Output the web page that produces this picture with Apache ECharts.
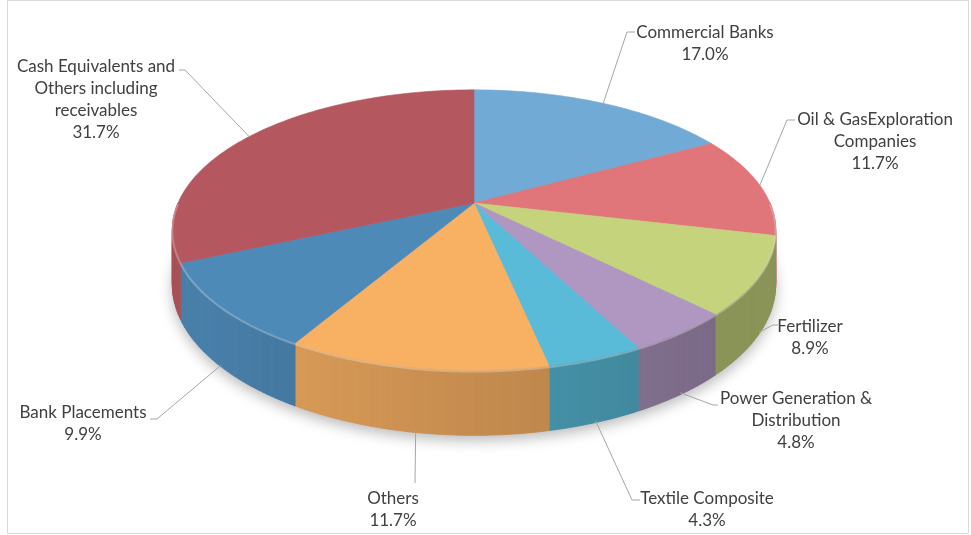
<!DOCTYPE html>
<html>
<head>
<meta charset="utf-8">
<title>Portfolio composition</title>
<script src="https://cdn.jsdelivr.net/npm/echarts@6.0.0/dist/echarts.min.js"></script>
<style>
    html, body { margin: 0; padding: 0; background: #fff; }
    #chart { width: 971px; height: 535px; }
</style>
</head>
<body>
<div id="chart"></div>
<script>
// slices, clockwise from 12 o'clock
var sectors = [
    'Commercial Banks',
    'Oil & GasExploration\nCompanies',
    'Fertilizer',
    'Power Generation &\nDistribution',
    'Textile Composite',
    'Others',
    'Bank Placements',
    'Cash Equivalents and\nOthers including\nreceivables'
];
var shares = [17.0, 11.7, 8.9, 4.8, 4.3, 11.7, 9.9, 31.7];

var topColors = ['#72aad6', '#e0757a', '#c5d37c', '#b097c2', '#59bbd8', '#f8b063', '#4e8ab8', '#b5575f'];

// label layout: [text centre x, first line centre y, elbow x, elbow y, end x]
var labelLayout = [
    [705, 33, 627, 32, 635],
    [875, 120, 787, 120, 795],
    [810, 327, 773, 325, 778],
    [796, 399, 713, 405, 718],
    [707, 499, 632, 500, 640],
    [393, 499, 415, 483, 415],
    [83, 413, 157, 419, 150],
    [96, 67, 185, 70, 179]
];

// pie geometry in pixels, with a simple perspective factor K
var CX = 474, CY = 203, RX = 296, RY = 135, K = 0.193, DEPTH = 52.5;
var STEP = Math.PI / 180;

var total = shares.reduce(function (a, b) { return a + b; }, 0);
var starts = [], ends = [];
(function () {
    var acc = 0;
    shares.forEach(function (s) {
        starts.push(acc / total * 2 * Math.PI);
        acc += s;
        ends.push(acc / total * 2 * Math.PI);
    });
})();

// theta clockwise from top, r 0..1, h 0 = top face, 1 = bottom
function project(theta, r, h) {
    var u = Math.sin(theta) * r, v = -Math.cos(theta) * r;
    var w = 1 - K * v;
    return [CX + RX * u / w, CY + (RY * v + DEPTH * h) / w];
}

function shade(hex, f) {
    var n = parseInt(hex.slice(1), 16);
    var r = Math.round(((n >> 16) & 255) * f);
    var g = Math.round(((n >> 8) & 255) * f);
    var b = Math.round((n & 255) * f);
    return 'rgb(' + Math.min(255, r) + ',' + Math.min(255, g) + ',' + Math.min(255, b) + ')';
}

function wallFactor(theta) {
    var d = theta * 180 / Math.PI;
    return 0.70 + 0.22 * Math.min(1, Math.max(0, (d - 140) / 90));
}

function rimPoints(a0, a1, h) {
    var pts = [];
    var n = Math.max(2, Math.ceil((a1 - a0) / STEP));
    for (var k = 0; k <= n; k++) {
        pts.push(project(a0 + (a1 - a0) * k / n, 1, h));
    }
    return pts;
}

function renderWall(params, api) {
    var i = params.dataIndex;
    var children = [];
    if (i === 0) {
        // bottom disk, only there to cast the soft shadow
        children.push({
            type: 'polygon',
            shape: { points: rimPoints(0, 2 * Math.PI, 1) },
            style: { fill: '#bbbbbb', shadowBlur: 14, shadowColor: 'rgba(0,0,0,0.28)', shadowOffsetY: 5 }
        });
    }
    var a0 = Math.max(starts[i], Math.PI / 2);
    var a1 = Math.min(ends[i], 3 * Math.PI / 2);
    if (a1 > a0) {
        var n = Math.max(2, Math.ceil((a1 - a0) / STEP));
        for (var k = 0; k < n; k++) {
            var t0 = a0 + (a1 - a0) * k / n;
            var t1 = a0 + (a1 - a0) * (k + 1) / n;
            var c = shade(topColors[i], wallFactor((t0 + t1) / 2));
            children.push({
                type: 'polygon',
                shape: { points: [project(t0, 1, 0), project(t1, 1, 0), project(t1, 1, 1), project(t0, 1, 1)] },
                style: { fill: c, stroke: c, lineWidth: 0.8 }
            });
        }
    }
    return { type: 'group', children: children };
}

function renderTop(params, api) {
    var i = params.dataIndex;
    var pts = [project(0, 0, 0)].concat(rimPoints(starts[i], ends[i], 0));
    var children = [{
        type: 'polygon',
        shape: { points: pts },
        style: { fill: topColors[i], stroke: topColors[i], lineWidth: 0.6 }
    }];
    var a0 = Math.max(starts[i], Math.PI / 2);
    var a1 = Math.min(ends[i], 3 * Math.PI / 2);
    if (a1 > a0) {
        children.push({
            type: 'polyline',
            shape: { points: rimPoints(a0, a1, 0.02) },
            style: { stroke: 'rgba(255,255,255,0.28)', lineWidth: 2, fill: null }
        });
    }
    return { type: 'group', children: children };
}

function renderLabel(params, api) {
    var i = params.dataIndex;
    var L = labelLayout[i];
    var mid = (starts[i] + ends[i]) / 2;
    var front = -Math.cos(mid) > 0;
    var p = project(mid, 1, front ? 0.97 : 0);
    return {
        type: 'group',
        children: [{
            type: 'polyline',
            shape: { points: [p, [L[2], L[3]], [L[4], L[3]]] },
            style: { stroke: '#a6a6a6', lineWidth: 1, fill: null }
        }, {
            type: 'text',
            style: {
                text: sectors[i] + '\n' + api.value(0).toFixed(1) + '%',
                x: L[0],
                y: L[1] - 11,
                align: 'center',
                verticalAlign: 'top',
                lineHeight: 22,
                fontSize: 17,
                fontFamily: 'Lato',
                fill: '#404040'
            }
        }]
    };
}

var chart = echarts.init(document.getElementById('chart'));
chart.setOption({
    animation: false,
    backgroundColor: '#ffffff',
    graphic: [{
        type: 'rect',
        shape: { x: 7.5, y: 0.5, width: 961, height: 533 },
        style: { fill: null, stroke: '#d9d9d9', lineWidth: 1 },
        silent: true
    }],
    series: [
        { type: 'custom', coordinateSystem: 'none', silent: true, z: 1, renderItem: renderWall, data: shares },
        { type: 'custom', coordinateSystem: 'none', silent: true, z: 2, renderItem: renderTop, data: shares },
        { type: 'custom', coordinateSystem: 'none', silent: true, z: 3, renderItem: renderLabel, data: shares }
    ]
});
</script>
</body>
</html>
